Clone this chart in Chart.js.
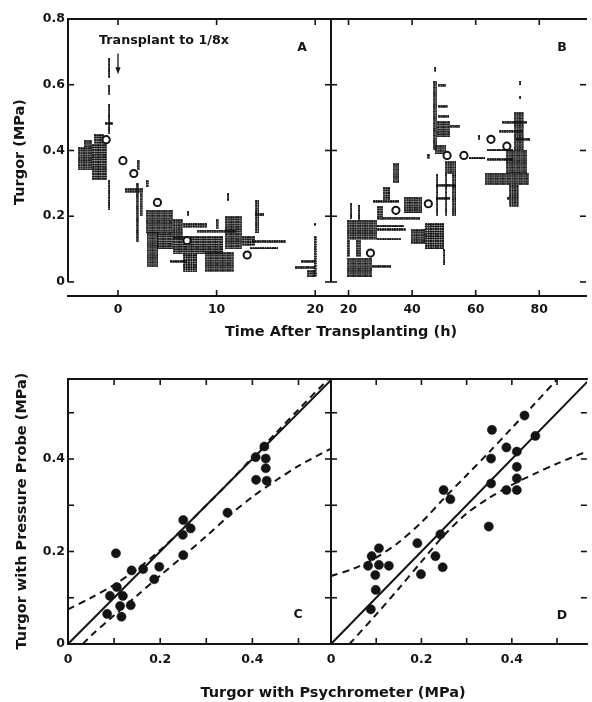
<!DOCTYPE html>
<html><head><meta charset="utf-8">
<title>Turgor</title>
<script src="https://cdn.jsdelivr.net/npm/chart.js@4.4.0/dist/chart.umd.min.js"></script>
<style>
html,body{margin:0;padding:0;background:#fff;}
#wrap{position:relative;width:592px;height:702px;overflow:hidden;background:#fff;}
canvas{position:absolute;}
.t{position:absolute;font-family:'DejaVu Sans',sans-serif;font-weight:bold;color:#141414;white-space:nowrap;line-height:1;transform:translate(-50%,-50%);}
.r{transform:translate(-50%,-50%) rotate(-90deg);}
</style></head><body>
<div id="wrap">
<canvas id="cA" width="340" height="345" style="left:0;top:0"></canvas>
<canvas id="cB" width="266" height="345" style="left:326px;top:0"></canvas>
<canvas id="cC" width="340" height="362" style="left:0;top:340px"></canvas>
<canvas id="cD" width="281" height="362" style="left:311px;top:340px"></canvas>
<div class="t r" style="left:19px;top:152px;font-size:14.5px">Turgor (MPa)</div>
<div class="t" style="left:341px;top:331px;font-size:14.5px">Time After Transplanting (h)</div>
<div class="t r" style="left:21px;top:511px;font-size:14.5px">Turgor with Pressure Probe (MPa)</div>
<div class="t" style="left:333px;top:692px;font-size:14.5px">Turgor with Psychrometer (MPa)</div>
<div class="t" style="left:164px;top:40px;font-size:12.7px">Transplant to 1/8x</div>
<div class="t" style="left:302px;top:47px;font-size:12.5px">A</div>
<div class="t" style="left:562px;top:47px;font-size:12.5px">B</div>
<div class="t" style="left:298px;top:614px;font-size:12.5px">C</div>
<div class="t" style="left:562px;top:615px;font-size:12.5px">D</div>
</div>
<script>
// ---------- data ----------
const aXTicks = [0, 10, 20];
const bXTicks = [20, 40, 60, 80];
const abYTicks = [0, 0.2, 0.4, 0.6, 0.8];
const abYMarks = [0, 0.2, 0.4, 0.6];
const cdLabels = [0, 0.2, 0.4];
const cdMarks = [0.1, 0.2, 0.3, 0.4, 0.5];

// mean turgor (open circles)
const aMeanX = [-1.2, 0.5, 1.6, 4.0, 7.0, 13.1];
const aMeanY = [0.433, 0.369, 0.33, 0.242, 0.126, 0.082];
const bMeanX = [26.9, 34.9, 45.1, 51.0, 56.3, 64.8, 69.8];
const bMeanY = [0.088, 0.218, 0.238, 0.385, 0.385, 0.434, 0.413];

// individual-cell measurement clouds: [x0, x1, y0, y1]
const aCells = [
 [-4.05,-2.6,0.34,0.41],[-3.4,-2.6,0.41,0.43],[-2.6,-1.1,0.31,0.42],[-2.4,-1.4,0.42,0.45],
 [-1.05,-0.8,0.22,0.31],[-1.05,-0.8,0.45,0.54],[-1.3,-0.5,0.478,0.486],[-1.05,-0.8,0.62,0.68],
 [-1.05,-0.8,0.57,0.6],[0.7,2.5,0.27,0.285],[1.85,2.15,0.12,0.3],[2.2,2.5,0.2,0.27],
 [1.9,2.2,0.34,0.37],[2.8,3.1,0.29,0.31],[2.9,5.6,0.15,0.22],[2.9,4.0,0.045,0.15],
 [4.0,5.6,0.1,0.15],[5.6,6.6,0.13,0.19],[6.6,9.0,0.165,0.18],[5.6,10.7,0.085,0.14],
 [6.6,8.0,0.03,0.085],[8.8,11.7,0.03,0.09],[10.9,12.6,0.1,0.2],[12.6,13.9,0.11,0.14],
 [5.3,7.0,0.058,0.066],[9.9,10.2,0.16,0.19],[11.0,11.25,0.245,0.27],[13.9,14.3,0.15,0.25],
 [13.9,14.8,0.2,0.208],[7.0,7.2,0.2,0.215],[13.6,17.0,0.118,0.126],[13.4,16.2,0.1,0.107],
 [8.0,12.0,0.15,0.16],[19.85,20.15,0.015,0.14],[18.6,20.0,0.058,0.066],[18.0,20.0,0.039,0.047],
 [19.2,20.0,0.015,0.035],[19.9,20.15,0.17,0.18]
];
const bCells = [
 [19.6,27.5,0.016,0.075],[27.5,33.4,0.042,0.052],[19.6,20.6,0.075,0.128],[22.5,24.0,0.075,0.128],
 [19.6,29.0,0.128,0.19],[29.0,38.0,0.155,0.163],[29.0,42.6,0.19,0.198],[29.0,37.5,0.168,0.175],
 [29.0,36.5,0.126,0.133],[29.0,31.0,0.198,0.23],[20.6,21.0,0.19,0.24],[23.0,23.4,0.19,0.235],
 [27.7,35.9,0.241,0.249],[30.8,32.9,0.249,0.29],[33.8,35.8,0.3,0.36],[37.4,43.0,0.21,0.26],
 [39.5,44.0,0.115,0.16],[44.0,50.0,0.1,0.18],[49.8,50.4,0.05,0.1],[46.6,48.0,0.4,0.61],
 [47.0,47.4,0.64,0.655],[48.0,50.6,0.595,0.603],[48.0,51.2,0.53,0.538],[48.0,51.5,0.5,0.508],
 [48.0,52.0,0.44,0.49],[52.0,55.2,0.47,0.478],[47.0,50.6,0.39,0.418],[44.8,45.6,0.375,0.39],
 [50.2,53.8,0.327,0.367],[47.6,48.2,0.2,0.327],[50.5,51.0,0.2,0.327],[52.5,53.7,0.2,0.327],
 [47.6,53.7,0.29,0.298],[47.6,52.0,0.25,0.258],[57.9,62.9,0.375,0.382],[60.6,61.3,0.432,0.446],
 [62.9,76.6,0.296,0.333],[63.5,71.7,0.399,0.406],[63.5,71.7,0.368,0.376],[69.6,76.3,0.333,0.403],
 [70.5,73.6,0.23,0.296],[72.0,75.1,0.4,0.516],[67.4,74.8,0.455,0.463],[72.5,77.0,0.43,0.438],
 [68.3,76.3,0.482,0.49],[73.8,74.2,0.6,0.612],[73.8,74.2,0.555,0.565],[69.9,70.3,0.25,0.26]
];

// panel C: psychrometer vs pressure probe
const cPsy   = [0.104,0.091,0.106,0.119,0.085,0.113,0.116,0.136,0.138,0.163,0.198,0.187,0.25,0.249,0.266,0.25,0.346,0.407,0.426,0.429,0.429,0.408,0.431];
const cProbe = [0.196,0.104,0.123,0.104,0.065,0.082,0.059,0.084,0.159,0.162,0.167,0.14,0.268,0.236,0.25,0.192,0.284,0.404,0.427,0.401,0.38,0.355,0.353];
const cUpX = [0,0.05,0.1,0.15,0.2,0.25,0.3,0.35,0.4,0.45,0.5,0.575];
const cUpY = [0.075,0.1,0.128,0.162,0.203,0.25,0.3,0.35,0.403,0.455,0.507,0.583];
const cLoX = [0.032,0.05,0.1,0.15,0.2,0.25,0.3,0.35,0.4,0.45,0.5,0.575];
const cLoY = [0,0.018,0.062,0.105,0.148,0.19,0.233,0.278,0.318,0.353,0.385,0.425];
// panel D
const dPsy   = [0.088,0.099,0.098,0.082,0.106,0.128,0.09,0.106,0.191,0.199,0.231,0.242,0.247,0.249,0.264,0.349,0.354,0.354,0.356,0.388,0.388,0.411,0.411,0.411,0.411,0.428,0.452];
const dProbe = [0.075,0.117,0.149,0.169,0.171,0.169,0.19,0.207,0.218,0.151,0.19,0.237,0.166,0.333,0.313,0.254,0.347,0.401,0.463,0.425,0.333,0.416,0.383,0.358,0.333,0.494,0.45];
const dUpX = [0,0.05,0.1,0.15,0.2,0.25,0.3,0.35,0.4,0.45,0.5,0.52];
const dUpY = [0.147,0.163,0.187,0.22,0.263,0.315,0.365,0.415,0.467,0.519,0.572,0.593];
const dLoX = [0.041,0.1,0.15,0.2,0.25,0.3,0.35,0.4,0.45,0.5,0.57];
const dLoY = [0,0.064,0.12,0.178,0.235,0.282,0.316,0.344,0.368,0.39,0.418];
const oneToOneX = [0, 0.6];
const oneToOneY = [0, 0.6];

// ---------- style ----------
const INK = '#141414';
const FONT = {family: "'DejaVu Sans', sans-serif", weight: 'bold', size: 12.5};

const tile = document.createElement('canvas'); tile.width = 12; tile.height = 12;
(function(){ const t = tile.getContext('2d'); t.fillStyle = INK;
  for (let i = 0; i < 5; i++) for (let j = 0; j < 5; j++) { t.beginPath(); t.arc(1.2 + 2.4*i, 1.2 + 2.4*j, 1.25, 0, Math.PI*2); t.fill(); } })();
const blockCache = {};
function dotBlock(w, h) {
  const W = Math.max(2, Math.round(w)), H = Math.max(2, Math.round(h));
  const k = W + 'x' + H;
  if (blockCache[k]) return blockCache[k];
  const cv = document.createElement('canvas'); cv.width = W; cv.height = H;
  const g = cv.getContext('2d'); g.fillStyle = g.createPattern(tile, 'repeat'); g.fillRect(0, 0, W, H);
  return (blockCache[k] = cv);
}
function cellStyle(c) {
  const r = c.raw; if (!r) return 'circle';
  const sx = c.chart.scales.x, sy = c.chart.scales.y;
  const w = Math.abs(sx.getPixelForValue(r.x1) - sx.getPixelForValue(r.x0));
  const h = Math.abs(sy.getPixelForValue(r.y0) - sy.getPixelForValue(r.y1));
  return dotBlock(w, h);
}
const cellsData = cells => cells.map(c => ({x: (c[0]+c[1])/2, y: (c[2]+c[3])/2, x0: c[0], x1: c[1], y0: c[2], y1: c[3]}));
const pts = (xs, ys) => xs.map((x, i) => ({x, y: ys[i]}));

const framePlugin = {
  id: 'frame',
  afterDatasetsDraw(chart, args, o) {
    if (!o || !o.edges) return;
    const {ctx, chartArea: a, scales: {x, y}} = chart;
    ctx.save(); ctx.strokeStyle = INK; ctx.fillStyle = INK; ctx.lineCap = 'butt';
    for (const e of o.edges) {
      const vert = e.side === 'left' || e.side === 'right';
      const pos = {left: a.left, right: a.right, top: a.top, bottom: a.bottom}[e.side];
      if (e.line !== false) {
        ctx.lineWidth = 2; ctx.beginPath();
        if (vert) {
          const p0 = e.span ? y.getPixelForValue(e.span[0]) : a.bottom + 1;
          const p1 = e.span ? y.getPixelForValue(e.span[1]) : a.top - 1;
          ctx.moveTo(pos, p0); ctx.lineTo(pos, p1);
        } else { ctx.moveTo(a.left - 1, pos); ctx.lineTo(a.right + 1, pos); }
        ctx.stroke();
      }
      ctx.lineWidth = 1.6; const L = 6;
      const sgn = {left: 1, right: -1, top: 1, bottom: -1}[e.side];
      for (const v of (e.ticks || [])) {
        ctx.beginPath();
        const p = vert ? y.getPixelForValue(v) : x.getPixelForValue(v);
        const s0 = e.dir === 'cross' ? pos - L : pos;
        const s1 = e.dir === 'cross' ? pos + L : pos + sgn * L;
        if (vert) { ctx.moveTo(s0, p); ctx.lineTo(s1, p); } else { ctx.moveTo(p, s0); ctx.lineTo(p, s1); }
        ctx.stroke();
      }
    }
    if (o.arrow) {
      const ax = x.getPixelForValue(o.arrow.x), y0 = y.getPixelForValue(o.arrow.y0), y1 = y.getPixelForValue(o.arrow.y1);
      ctx.lineWidth = 1.3; ctx.beginPath(); ctx.moveTo(ax, y0); ctx.lineTo(ax, y1 - 5); ctx.stroke();
      ctx.beginPath(); ctx.moveTo(ax - 2.6, y1 - 7); ctx.lineTo(ax + 2.6, y1 - 7); ctx.lineTo(ax, y1); ctx.closePath(); ctx.fill();
    }
    ctx.restore();
  }
};

function makeOptions(o) {
  const y = {type: 'linear', min: o.y[0], max: o.y[1], display: !!o.yTicks};
  if (o.yTicks) Object.assign(y, {
    grid: {display: false, drawTicks: false}, border: {display: false},
    ticks: {font: FONT, color: INK, padding: 3, autoSkip: false, callback: v => String(v)},
    afterBuildTicks: s => { s.ticks = o.yTicks.map(v => ({value: v})); },
    afterFit: s => { s.width = o.yW; }
  });
  return {
    responsive: false, animation: false, devicePixelRatio: 1, events: [],
    layout: {padding: o.pad},
    plugins: {legend: {display: false}, tooltip: {enabled: false}, frame: o.frame},
    scales: {
      x: {type: 'linear', min: o.x[0], max: o.x[1],
          grid: {display: false, drawTicks: false}, border: {display: false},
          ticks: {font: FONT, color: INK, padding: o.xPad, maxRotation: 0, autoSkip: false, callback: v => String(v)},
          afterBuildTicks: s => { s.ticks = o.xTicks.map(v => ({value: v})); },
          afterFit: s => { s.height = o.xH; }},
      y
    }
  };
}
const meanSet = (xs, ys) => ({data: pts(xs, ys), pointStyle: 'circle', pointRadius: 3.6, pointBorderWidth: 2,
  pointBackgroundColor: '#fff', pointBorderColor: INK});
const cellSet = cells => ({data: cellsData(cells), pointStyle: cellStyle, pointRadius: 1, pointBorderWidth: 0});
const dotSet = (xs, ys) => ({data: pts(xs, ys), pointStyle: 'circle', pointRadius: 4.6, pointBorderWidth: 0.5,
  pointBackgroundColor: INK, pointBorderColor: INK});
const lineSet = (xs, ys, dash) => ({data: pts(xs, ys), showLine: true, borderColor: INK, borderWidth: 2,
  borderDash: dash, pointRadius: 0, tension: 0.3, fill: false});

new Chart(document.getElementById('cA'), {
  type: 'scatter',
  data: {datasets: [meanSet(aMeanX, aMeanY), cellSet(aCells)]},
  options: makeOptions({x: [-5.07, 21.6], y: [-0.0427, 0.8], xTicks: aXTicks, yTicks: abYTicks, yW: 68, xH: 49, xPad: 6,
    pad: {left: 0, top: 19, right: 9, bottom: 0},
    frame: {edges: [
      {side: 'left', span: [0, 0.8], ticks: abYMarks, dir: 'in'},
      {side: 'top', ticks: aXTicks, dir: 'in'},
      {side: 'right', span: [0, 0.8], ticks: abYMarks, dir: 'cross'},
      {side: 'bottom', ticks: aXTicks, dir: 'in'}],
      arrow: {x: 0, y0: 0.695, y1: 0.632}}}),
  plugins: [framePlugin]
});
new Chart(document.getElementById('cB'), {
  type: 'scatter',
  data: {datasets: [meanSet(bMeanX, bMeanY), cellSet(bCells)]},
  options: makeOptions({x: [14.8, 94.7], y: [-0.0427, 0.8], xTicks: bXTicks, xH: 49, xPad: 6,
    pad: {left: 5, top: 19, right: 0, bottom: 0},
    frame: {edges: [
      {side: 'top', ticks: bXTicks, dir: 'in'},
      {side: 'right', line: false, ticks: abYMarks, dir: 'in'},
      {side: 'bottom', ticks: bXTicks, dir: 'in'}]}}),
  plugins: [framePlugin]
});
new Chart(document.getElementById('cC'), {
  type: 'scatter',
  data: {datasets: [dotSet(cPsy, cProbe), lineSet(oneToOneX, oneToOneY, []), lineSet(cUpX, cUpY, [7, 5]), lineSet(cLoX, cLoY, [7, 5])]},
  options: makeOptions({x: [0, 0.5705], y: [0, 0.573], xTicks: cdLabels, yTicks: cdLabels, yW: 68, xH: 58, xPad: 8,
    pad: {left: 0, top: 39, right: 9, bottom: 0},
    frame: {edges: [
      {side: 'left', ticks: cdMarks, dir: 'in'},
      {side: 'top', ticks: cdMarks, dir: 'in'},
      {side: 'right', ticks: cdMarks, dir: 'cross'},
      {side: 'bottom', ticks: cdMarks, dir: 'in'}]}}),
  plugins: [framePlugin]
});
new Chart(document.getElementById('cD'), {
  type: 'scatter',
  data: {datasets: [dotSet(dPsy, dProbe), lineSet(oneToOneX, oneToOneY, []), lineSet(dUpX, dUpY, [7, 5]), lineSet(dLoX, dLoY, [7, 5])]},
  options: makeOptions({x: [0, 0.566], y: [0, 0.573], xTicks: cdLabels, xH: 58, xPad: 8,
    pad: {left: 20, top: 39, right: 0, bottom: 0},
    frame: {edges: [
      {side: 'top', ticks: cdMarks, dir: 'in'},
      {side: 'right', line: false, ticks: cdMarks, dir: 'in'},
      {side: 'bottom', ticks: cdMarks, dir: 'in'}]}}),
  plugins: [framePlugin]
});
</script>
</body></html>
